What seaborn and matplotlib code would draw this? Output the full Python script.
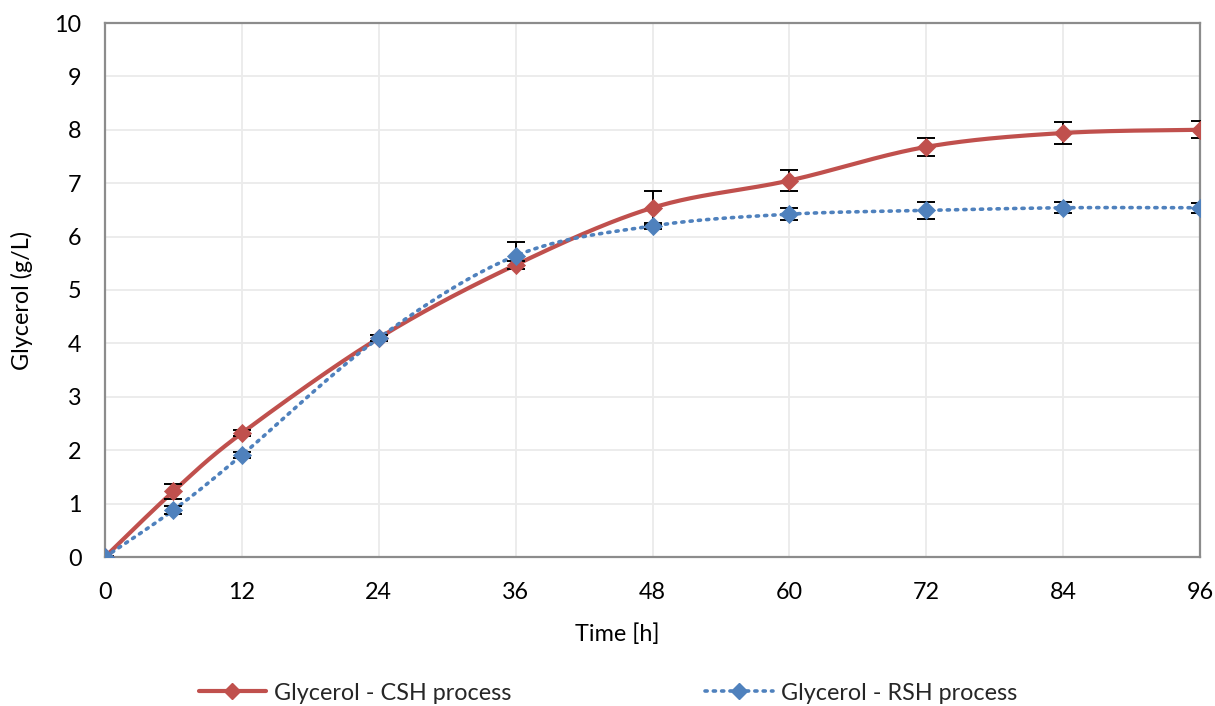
import numpy as np
import pandas as pd
import matplotlib
matplotlib.use("Agg")
import matplotlib.pyplot as plt
from matplotlib.lines import Line2D
import seaborn as sns

# Sampling times (h)
time_h = [0, 6, 12, 24, 36, 48, 60, 72, 84, 96]

# Glycerol concentration (g/L) and standard deviations
csh_mean = [0.00, 1.23, 2.32, 4.10, 5.47, 6.54, 7.05, 7.68, 7.94, 8.00]
csh_sd = [0.02, 0.14, 0.06, 0.06, 0.07, 0.32, 0.19, 0.17, 0.21, 0.16]
rsh_mean = [0.00, 0.88, 1.91, 4.10, 5.64, 6.20, 6.42, 6.49, 6.54, 6.54]
rsh_sd = [0.02, 0.07, 0.05, 0.06, 0.25, 0.05, 0.11, 0.16, 0.10, 0.09]

x_ticks = [0, 12, 24, 36, 48, 60, 72, 84, 96]
y_ticks = list(range(0, 11))

labels = ["Glycerol - CSH process", "Glycerol - RSH process"]
RED = "#C0504D"
BLUE = "#4F81BD"
FS = 16.8


def smooth_curve(xs, ys, n=40):
    """Cubic Bezier smoothing through every point (Catmull-Rom style)."""
    pts = np.column_stack([xs, ys]).astype(float)
    ext = np.vstack([pts[0], pts, pts[-1]])
    t = np.linspace(0, 1, n)[:, None]
    out = []
    for i in range(len(pts) - 1):
        p0, p1, p2, p3 = ext[i], ext[i + 1], ext[i + 2], ext[i + 3]
        c1 = p1 + (p2 - p0) / 6.0
        c2 = p2 - (p3 - p1) / 6.0
        seg = ((1 - t) ** 3) * p1 + 3 * ((1 - t) ** 2) * t * c1 \
            + 3 * (1 - t) * t ** 2 * c2 + t ** 3 * p2
        out.append(seg if i == 0 else seg[1:])
    seg = np.vstack(out)
    return seg[:, 0], seg[:, 1]


sns.set_theme(style="white")
plt.rcParams["font.family"] = ["Lato", "DejaVu Sans"]

fig = plt.figure(figsize=(12.15, 7.06), dpi=100)
ax = fig.add_axes([105 / 1215, 1 - 557 / 706, 1095 / 1215, 534 / 706])

series = [
    (csh_mean, csh_sd, RED, "-", labels[0]),
    (rsh_mean, rsh_sd, BLUE, (0, (0.6, 1.7)), labels[1]),
]

for mean, sd, color, ls, name in series:
    sx, sy = smooth_curve(time_h, mean)
    curve = pd.DataFrame({"t": sx, "g": sy, "n": np.arange(len(sx))})
    sns.lineplot(data=curve, x="t", y="g", sort=False, estimator=None,
                 color=color, linewidth=3.0 if ls == "-" else 2.6,
                 linestyle=ls, ax=ax, zorder=3,
                 solid_capstyle="round", dash_capstyle="round")
    ax.errorbar(time_h, mean, yerr=sd, fmt="none", ecolor="black",
                elinewidth=1.4, capsize=6.5, capthick=1.4, zorder=4)
    pts = pd.DataFrame({"t": time_h, "g": mean})
    sns.scatterplot(data=pts, x="t", y="g", marker="D", s=85, color=color,
                    edgecolor=color, linewidth=0.5, ax=ax, zorder=5)

ax.set_xlim(0, 96)
ax.set_ylim(0, 10)
ax.set_xticks(x_ticks)
ax.set_yticks(y_ticks)
ax.grid(True, color="#EBEBEB", linewidth=1.3)
ax.set_axisbelow(True)
for sp in ax.spines.values():
    sp.set_color("#8C8C8C")
    sp.set_linewidth(1.6)
ax.tick_params(axis="both", length=0, labelsize=FS, colors="black")
ax.tick_params(axis="y", pad=17)
ax.tick_params(axis="x", pad=18)

ax.set_xlabel("Time [h]", fontsize=FS, color="black")
ax.set_ylabel("Glycerol (g/L)", fontsize=FS, color="black")
ax.xaxis.set_label_coords(0.4676, -0.1236)
ax.yaxis.set_label_coords(-0.0658, 0.481)

handles = [
    Line2D([], [], color=RED, linewidth=3.0, marker="D", markersize=8,
           markeredgecolor=RED),
    Line2D([], [], color=BLUE, linewidth=2.6, linestyle=(0, (0.6, 1.7)),
           marker="D", markersize=8, markeredgecolor=BLUE,
           dash_capstyle="round"),
]
fig.legend(handles, labels, loc="center", bbox_to_anchor=(608 / 1215, 13 / 706),
           ncol=2, frameon=False, fontsize=FS, handlelength=2.9,
           columnspacing=8.3, handletextpad=0.35, markerscale=1.0)

fig.savefig("out.png", dpi=100)
